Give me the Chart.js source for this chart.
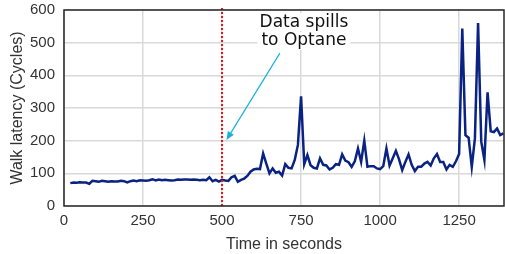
<!DOCTYPE html>
<html>
<head>
<meta charset="utf-8">
<script src="https://cdn.jsdelivr.net/npm/chart.js@4"></script>
<style>
  html, body { margin: 0; padding: 0; background: #fff; }
  #wrap { width: 505px; height: 254px; }
</style>
</head>
<body>
<div id="wrap"><canvas id="walkChart" width="505" height="254"></canvas></div>
<script>
// sample times (s) and measured walk latency (cycles)
const times = [
  20, 30, 40, 50, 60, 70, 80, 90, 100, 110, 120, 130, 140, 150, 160, 170, 180, 190, 200, 210,
  220, 230, 240, 250, 260, 270, 280, 290, 300, 310, 320, 330, 340, 350, 360, 370, 380, 390, 400, 410,
  420, 430, 440, 450, 460, 470, 480, 490, 500, 510, 520, 530, 540, 550, 560, 570, 580, 590, 600, 610,
  620, 630, 640, 650, 660, 670, 680, 690, 700, 710, 720, 730, 740, 750, 760, 770, 780, 790, 800, 810,
  820, 830, 840, 850, 860, 870, 880, 890, 900, 910, 920, 930, 940, 950, 960, 970, 980, 990, 1000, 1010,
  1020, 1030, 1040, 1050, 1060, 1070, 1080, 1090, 1100, 1110, 1120, 1130, 1140, 1150, 1160, 1170, 1180, 1190, 1200, 1210,
  1220, 1230, 1240, 1250, 1260, 1270, 1280, 1290, 1300, 1310, 1320, 1330, 1340, 1350, 1360, 1370, 1380, 1390
];
const latency = [
  70, 72, 71, 73, 72, 72, 68, 77, 76, 74, 77, 76, 74, 76, 75, 75, 77, 76, 72, 76,
  78, 76, 79, 78, 77, 79, 82, 78, 81, 79, 80, 79, 78, 79, 81, 80, 81, 81, 80, 81,
  80, 79, 80, 79, 88, 76, 80, 75, 80, 78, 77, 88, 92, 74, 80, 84, 92, 105, 112, 114,
  113, 161, 130, 100, 115, 102, 105, 93, 128, 117, 115, 141, 187, 336, 128, 156, 125, 117, 115, 146,
  126, 124, 112, 117, 128, 126, 158, 139, 134, 120, 137, 176, 135, 200, 120, 122, 122, 115, 113, 122,
  176, 124, 146, 169, 143, 110, 135, 158, 126, 107, 120, 120, 130, 135, 124, 146, 159, 135, 135, 112,
  126, 120, 137, 159, 543, 217, 209, 120, 207, 560, 197, 141, 348, 229, 226, 237, 217, 222
];
const xTicks = [0, 250, 500, 750, 1000, 1250];
const yTicks = [0, 100, 200, 300, 400, 500, 600];
const spillTime = 500;
const noteLines = ['Data spills', 'to Optane'];
const noteAt = { x: 759, y: [563, 505] };
const arrowFrom = { x: 683, y: 468 };
const arrowTo = { x: 514, y: 202 };

const txt = '#333333';
const tickFont = { family: 'Liberation Sans, Arial, sans-serif', size: 15 };
const titleFont = { family: 'Liberation Sans, Arial, sans-serif', size: 16 };

const overlay = {
  id: 'overlay',
  afterDatasetsDraw(chart) {
    const { ctx, chartArea: a, scales: { x, y } } = chart;
    ctx.save();
    // red dotted marker
    const sx = x.getPixelForValue(spillTime);
    ctx.strokeStyle = '#e8141b';
    ctx.lineWidth = 2;
    ctx.setLineDash([2, 2]);
    ctx.beginPath();
    ctx.moveTo(sx, a.top - 2);
    ctx.lineTo(sx, a.bottom);
    ctx.stroke();
    ctx.setLineDash([]);
    // frame
    ctx.strokeStyle = '#262626';
    ctx.lineWidth = 1.5;
    ctx.strokeRect(a.left, a.top, a.right - a.left, a.bottom - a.top);
    // note text with white box
    ctx.font = '17px "DejaVu Sans", Verdana, sans-serif';
    ctx.textAlign = 'center';
    ctx.textBaseline = 'middle';
    const tx = x.getPixelForValue(noteAt.x);
    noteLines.forEach((s, i) => {
      const ty = y.getPixelForValue(noteAt.y[i]);
      const w = ctx.measureText(s).width;
      ctx.fillStyle = '#fff';
      ctx.fillRect(tx - w / 2 - 4, ty - 9, w + 8, 18);
    });
    noteLines.forEach((s, i) => {
      ctx.fillStyle = '#111';
      ctx.fillText(s, tx, y.getPixelForValue(noteAt.y[i]));
    });
    // arrow
    const x0 = x.getPixelForValue(arrowFrom.x), y0 = y.getPixelForValue(arrowFrom.y);
    const x1 = x.getPixelForValue(arrowTo.x), y1 = y.getPixelForValue(arrowTo.y);
    const ang = Math.atan2(y1 - y0, x1 - x0);
    ctx.strokeStyle = '#19b2d6';
    ctx.fillStyle = '#19b2d6';
    ctx.lineWidth = 1.2;
    ctx.beginPath();
    ctx.moveTo(x0, y0);
    ctx.lineTo(x1 - 6 * Math.cos(ang), y1 - 6 * Math.sin(ang));
    ctx.stroke();
    ctx.beginPath();
    ctx.moveTo(x1, y1);
    ctx.lineTo(x1 - 9 * Math.cos(ang - 0.4), y1 - 9 * Math.sin(ang - 0.4));
    ctx.lineTo(x1 - 9 * Math.cos(ang + 0.4), y1 - 9 * Math.sin(ang + 0.4));
    ctx.closePath();
    ctx.fill();
    ctx.restore();
  }
};

new Chart(document.getElementById('walkChart'), {
  type: 'line',
  data: {
    datasets: [{
      data: times.map((t, i) => ({ x: t, y: latency[i] })),
      borderColor: '#0a2383',
      borderWidth: 2.5,
      pointRadius: 0,
      tension: 0,
      fill: false
    }]
  },
  options: {
    responsive: false,
    animation: false,
    layout: { padding: { top: 10, right: 1, left: 0, bottom: 0 } },
    plugins: { legend: { display: false }, tooltip: { enabled: false } },
    scales: {
      x: {
        type: 'linear',
        min: 0,
        max: 1392,
        afterBuildTicks: s => { s.ticks = xTicks.map(v => ({ value: v })); },
        afterFit: s => { s.height = 48; s.paddingLeft = 0; s.paddingRight = 0; },
        grid: { color: '#d9d9d9', lineWidth: 1.5, drawTicks: false },
        border: { display: false },
        ticks: { color: txt, font: tickFont, padding: 6, maxRotation: 0, callback: v => String(v) },
        title: { display: true, text: 'Time in seconds', color: txt, font: titleFont, padding: { top: 0, bottom: 0 } }
      },
      y: {
        min: 0,
        max: 600,
        afterBuildTicks: s => { s.ticks = yTicks.map(v => ({ value: v })); },
        afterFit: s => { s.width = 64; s.paddingTop = 0; s.paddingBottom = 0; },
        grid: { color: '#d9d9d9', lineWidth: 1.5, drawTicks: false },
        border: { display: false },
        ticks: { color: txt, font: tickFont, padding: 9, callback: v => String(v) },
        title: { display: true, text: 'Walk latency (Cycles)', color: txt, font: titleFont, padding: { top: 8, bottom: 0 } }
      }
    }
  },
  plugins: [overlay]
});
</script>
</body>
</html>
